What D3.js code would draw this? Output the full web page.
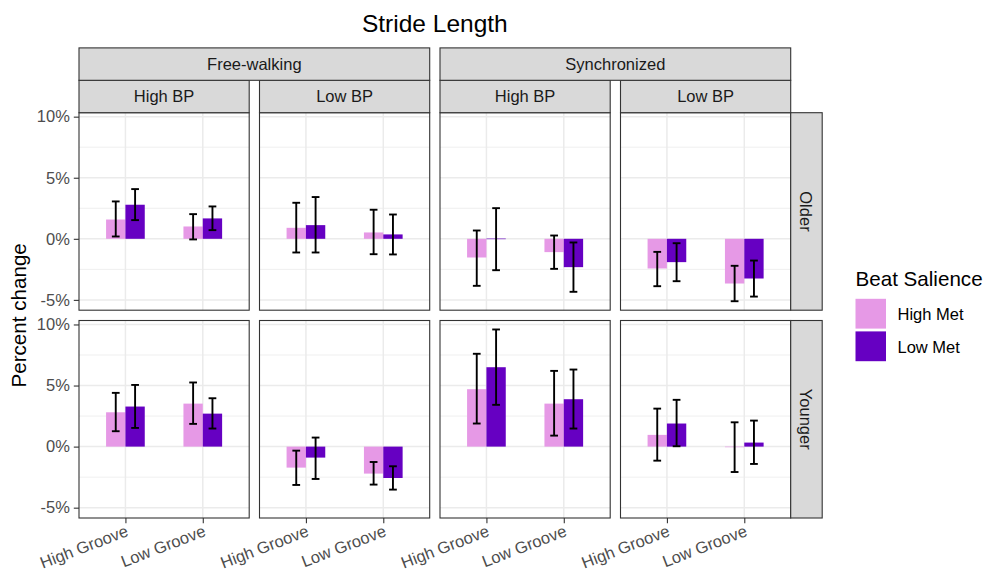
<!DOCTYPE html>
<html lang='en'>
<head>
	<meta charset='UTF-8'/>
	<title>Stride Length</title>
	<script src='https://cdnjs.cloudflare.com/ajax/libs/d3/7.8.5/d3.min.js'></script>
	<style>
		body {margin: 0; background: #FFF;}
		svg {font-family: 'Liberation Sans', Arial, Helvetica, sans-serif; display: block;}
		.strip rect {fill: #D9D9D9; stroke: #333; stroke-width: 1.1;}
		.strip text {fill: #1A1A1A; font-size: 16.5px;}
		.axis text {fill: #4D4D4D; font-size: 16.5px;}
		.axis line {stroke: #333; stroke-width: 1.1;}
	</style>
</head>
<body>
	<div class='graph'></div>
	<script>
		// facet levels
		const ages = ['Older', 'Younger'];
		const tasks = ['Free-walking', 'Synchronized'];
		const bps = ['High BP', 'Low BP'];
		const grooves = ['High Groove', 'Low Groove'];
		const mets = ['High Met', 'Low Met'];
		const yTicks = [-5, 0, 5, 10];
		const yMinor = [-2.5, 2.5, 7.5];

		// values by panel (Older: FW-High, FW-Low, Sync-High, Sync-Low, then Younger), each [High Groove, Low Groove]
		const highMetMean = [1.58, 1.01, 0.90, 0.52, -1.53, -1.09, -2.43, -3.66, 2.81, 3.52, -1.72, -2.21, 4.70, 3.52, 0.96, -0.03];
		const highMetLow  = [0.19, -0.05, -1.12, -1.26, -3.85, -2.46, -3.88, -5.11, 1.26, 1.86, -3.14, -3.11, 1.89, 0.90, -1.15, -2.08];
		const highMetHigh = [3.06, 2.02, 2.95, 2.38, 0.68, 0.27, -1.07, -2.21, 4.40, 5.25, -0.33, -1.26, 7.60, 6.20, 3.11, 1.99];
		const lowMetMean  = [2.79, 1.67, 1.12, 0.36, 0.02, -2.32, -1.91, -3.25, 3.28, 2.70, -0.90, -2.57, 6.50, 3.88, 1.89, 0.33];
		const lowMetLow   = [1.53, 0.71, -1.12, -1.28, -2.57, -4.34, -3.47, -4.73, 1.53, 1.48, -2.65, -3.52, 3.42, 1.48, 0.03, -1.42];
		const lowMetHigh  = [4.07, 2.65, 3.42, 1.99, 2.51, -0.30, -0.36, -1.78, 5.05, 3.96, 0.74, -1.61, 9.59, 6.31, 3.83, 2.13];

		const colors = {'High Met': '#E699E6', 'Low Met': '#6600C2'};

		const width = 985, height = 574;
		const margin = {top: 112.7, left: 79, bottom: 56, right: 194.3};
		const gap = 10.3, stripH = 32.4, stripW = 31.5;
		const panelW = (width - margin.left - margin.right - 3 * gap) / 4;
		const panelH = (height - margin.top - margin.bottom - gap) / 2;

		// long table
		let rows = [];
		let k = 0;
		ages.forEach(age => tasks.forEach(task => bps.forEach(bp => grooves.forEach(g => {
			rows.push({age, task, bp, groove: g, met: 'High Met', mean: highMetMean[k], lo: highMetLow[k], hi: highMetHigh[k]});
			rows.push({age, task, bp, groove: g, met: 'Low Met', mean: lowMetMean[k], lo: lowMetLow[k], hi: lowMetHigh[k]});
			k++;
		}))));

		const allVals = rows.flatMap(d => [d.lo, d.hi, 0]);
		const yMin = d3.min(allVals), yMax = d3.max(allVals);
		const pad = (yMax - yMin) * 0.05;

		const Y_SCALE = d3.scaleLinear().domain([yMin - pad, yMax + pad]).range([panelH, 0]);
		const X_SCALE = d3.scalePoint().domain(grooves).range([0, panelW]).padding(0.6);
		const step = X_SCALE.step();
		const DODGE = d3.scaleBand().domain(mets).range([-0.25 * step, 0.25 * step]);

		const svg = d3.select('.graph').append('svg')
			.attr('width', width).attr('height', height);

		const colX = c => margin.left + c * (panelW + gap);
		const rowY = r => margin.top + r * (panelH + gap);

		const panelKeys = [];
		tasks.forEach(task => bps.forEach(bp => panelKeys.push({task, bp})));

		ages.forEach((age, r) => {
			panelKeys.forEach((pk, c) => {
				const g = svg.append('g').attr('transform', `translate(${colX(c)},${rowY(r)})`);
				g.append('rect').attr('width', panelW).attr('height', panelH).attr('fill', '#FFF');
				// grid
				g.selectAll('.minor').data(yMinor).enter().append('line')
					.attr('x1', 0).attr('x2', panelW)
					.attr('y1', d => Y_SCALE(d)).attr('y2', d => Y_SCALE(d))
					.attr('stroke', '#EBEBEB').attr('stroke-width', 0.8);
				g.selectAll('.major').data(yTicks).enter().append('line')
					.attr('x1', 0).attr('x2', panelW)
					.attr('y1', d => Y_SCALE(d)).attr('y2', d => Y_SCALE(d))
					.attr('stroke', '#EBEBEB').attr('stroke-width', 1.5);
				g.selectAll('.vmajor').data(grooves).enter().append('line')
					.attr('x1', d => X_SCALE(d)).attr('x2', d => X_SCALE(d))
					.attr('y1', 0).attr('y2', panelH)
					.attr('stroke', '#EBEBEB').attr('stroke-width', 1.5);

				const sub = rows.filter(d => d.age === age && d.task === pk.task && d.bp === pk.bp);
				g.selectAll('.bar').data(sub).enter().append('rect')
					.attr('x', d => X_SCALE(d.groove) + DODGE(d.met))
					.attr('width', DODGE.bandwidth())
					.attr('y', d => Y_SCALE(Math.max(0, d.mean)))
					.attr('height', d => Math.max(Math.abs(Y_SCALE(d.mean) - Y_SCALE(0)), 0.6))
					.attr('fill', d => colors[d.met]);

				// error bars
				const cap = step * 0.05;
				const eb = g.selectAll('.eb').data(sub).enter().append('g')
					.attr('transform', d => `translate(${X_SCALE(d.groove) + DODGE(d.met) + DODGE.bandwidth() / 2},0)`)
					.attr('stroke', '#000').attr('stroke-width', 1.9);
				eb.append('line').attr('y1', d => Y_SCALE(d.lo)).attr('y2', d => Y_SCALE(d.hi));
				eb.append('line').attr('x1', -cap).attr('x2', cap).attr('y1', d => Y_SCALE(d.lo)).attr('y2', d => Y_SCALE(d.lo));
				eb.append('line').attr('x1', -cap).attr('x2', cap).attr('y1', d => Y_SCALE(d.hi)).attr('y2', d => Y_SCALE(d.hi));

				g.append('rect').attr('width', panelW).attr('height', panelH)
					.attr('fill', 'none').attr('stroke', '#333').attr('stroke-width', 1.1);

				// axes
				if (c === 0) {
					const ax = g.append('g').attr('class', 'axis')
						.call(d3.axisLeft(Y_SCALE).tickValues(yTicks).tickSize(5.2).tickPadding(4).tickFormat(d => d + '%'));
					ax.select('.domain').remove();
				}
				if (r === ages.length - 1) {
					const ax = g.append('g').attr('class', 'axis')
						.attr('transform', `translate(0,${panelH})`)
						.call(d3.axisBottom(X_SCALE).tickSize(5.2).tickPadding(4));
					ax.select('.domain').remove();
					ax.selectAll('text')
						.attr('text-anchor', 'end')
						.attr('y', 0).attr('dy', '0.75em')
						.attr('transform', 'translate(-1,6) rotate(-21)');
				}
			});

			// right strip
			const s = svg.append('g').attr('class', 'strip')
				.attr('transform', `translate(${colX(3) + panelW},${rowY(r)})`);
			s.append('rect').attr('width', stripW).attr('height', panelH);
			s.append('text').text(age)
				.attr('text-anchor', 'middle').attr('dominant-baseline', 'central')
				.attr('transform', `translate(${stripW / 2},${panelH / 2}) rotate(90)`);
		});

		// top strips: inner (BP) and outer (task)
		panelKeys.forEach((pk, c) => {
			const s = svg.append('g').attr('class', 'strip')
				.attr('transform', `translate(${colX(c)},${margin.top - stripH})`);
			s.append('rect').attr('width', panelW).attr('height', stripH);
			s.append('text').text(pk.bp).attr('x', panelW / 2).attr('y', stripH / 2)
				.attr('text-anchor', 'middle').attr('dominant-baseline', 'central');
		});
		tasks.forEach((task, t) => {
			const x0 = colX(t * 2), x1 = colX(t * 2 + 1) + panelW;
			const s = svg.append('g').attr('class', 'strip')
				.attr('transform', `translate(${x0},${margin.top - 2 * stripH})`);
			s.append('rect').attr('width', x1 - x0).attr('height', stripH);
			s.append('text').text(task).attr('x', (x1 - x0) / 2).attr('y', stripH / 2)
				.attr('text-anchor', 'middle').attr('dominant-baseline', 'central');
		});

		// title
		svg.append('text').text('Stride Length')
			.attr('x', (colX(0) + colX(3) + panelW) / 2).attr('y', 32)
			.attr('text-anchor', 'middle').style('font-size', '24.5px').attr('fill', '#000');

		// y label
		svg.append('text').text('Percent change')
			.attr('transform', `translate(18,${(rowY(0) + rowY(1) + panelH) / 2}) rotate(-90)`)
			.attr('text-anchor', 'middle').attr('dominant-baseline', 'central')
			.style('font-size', '20.6px').attr('fill', '#000');

		// legend
		const lg = svg.append('g').attr('transform', 'translate(855.5,286)');
		lg.append('text').text('Beat Salience').style('font-size', '20.6px').attr('fill', '#000');
		const items = lg.selectAll('.item').data(mets).enter().append('g')
			.attr('transform', (d, i) => `translate(0,${12.8 + i * 32.6})`);
		items.append('rect').attr('width', 30.5).attr('height', 29.8).attr('fill', d => colors[d]);
		items.append('text').text(d => d).attr('x', 42).attr('y', 15.5)
			.attr('dominant-baseline', 'central').style('font-size', '16.5px').attr('fill', '#000');
	</script>
</body>
</html>
